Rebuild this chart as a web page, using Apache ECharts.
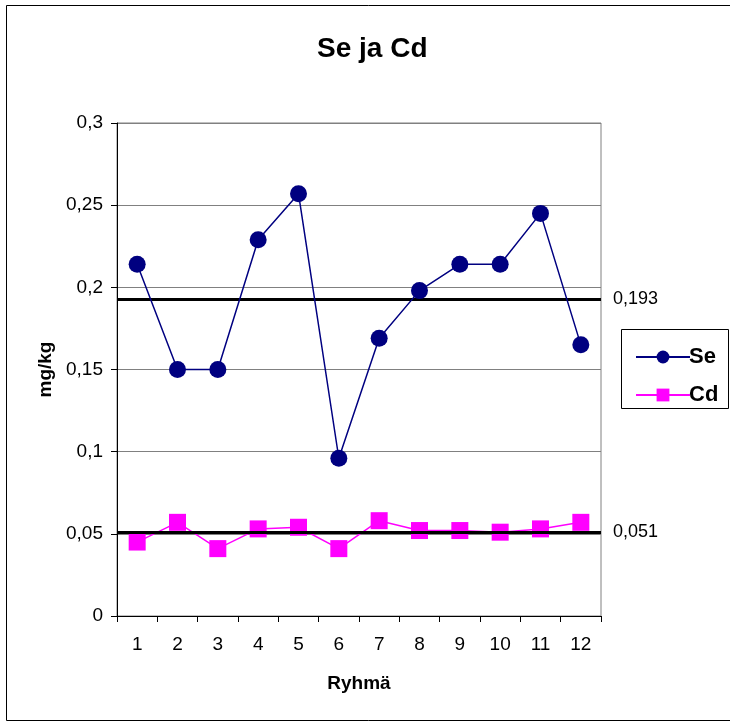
<!DOCTYPE html>
<html><head><meta charset="utf-8">
<script src="https://cdn.jsdelivr.net/npm/echarts@6/dist/echarts.min.js"></script>
<style>html,body{margin:0;padding:0;background:#fff}#c{width:730px;height:722px}</style>
</head><body><div id="c"></div>
<script>
var categories = ['1','2','3','4','5','6','7','8','9','10','11','12'];
var seValues = [0.214,0.150,0.150,0.229,0.257,0.096,0.169,0.198,0.214,0.214,0.245,0.165];
var cdValues = [0.045,0.057,0.041,0.053,0.054,0.041,0.058,0.052,0.052,0.051,0.053,0.057];
var refValues = [0.193, 0.051];
var yTicks = [0, 0.05, 0.1, 0.15, 0.2, 0.25, 0.3];

function fmt(v){ return String(+(+v).toFixed(3)).replace('.', ','); }
var FF = 'Liberation Sans, Arial';

var chart = echarts.init(document.getElementById('c'), null, {renderer:'canvas'});
chart.setOption({
  animation:false,
  backgroundColor:'#fff',
  title:{text:'Se ja Cd', left:312, top:30,
    textStyle:{fontFamily:FF, fontSize:28, fontWeight:'bold', color:'#000'}},
  graphic:[
    {type:'rect', shape:{x:6.5,y:5.5,width:740,height:715}, style:{fill:'none', stroke:'#000', lineWidth:1}, silent:true, z:-1},
    {type:'rect', shape:{x:621.5,y:329.5,width:107,height:79}, style:{fill:'#fff', stroke:'#000', lineWidth:1}, z:10}
  ],
  legend:{
    left:630, top:341, orient:'vertical', itemGap:16, itemWidth:54, itemHeight:16,
    textStyle:{fontFamily:FF, fontSize:22, fontWeight:'bold', color:'#000', padding:[0,0,0,-6]},
    data:['Se','Cd'], z:20
  },
  grid:{left:117, right:129, top:123, bottom:106, show:true, borderColor:'#808080', borderWidth:1},
  xAxis:{
    type:'category', data:categories, boundaryGap:true,
    name:'Ryhmä', nameLocation:'middle', nameGap:58,
    nameTextStyle:{fontFamily:FF, fontSize:19, fontWeight:'bold', color:'#000'},
    axisLine:{lineStyle:{color:'#000', width:1}},
    axisTick:{show:true, length:6, lineStyle:{color:'#000'}},
    axisLabel:{fontFamily:FF, fontSize:19, color:'#000', margin:19}
  },
  yAxis:{
    type:'value', min:0, max:0.3, interval:0.05,
    name:'mg/kg', nameLocation:'middle', nameGap:62,
    nameTextStyle:{fontFamily:FF, fontSize:19, fontWeight:'bold', color:'#000'},
    axisLine:{show:true, lineStyle:{color:'#000', width:1}},
    axisTick:{show:true, length:6, lineStyle:{color:'#000'}},
    splitLine:{show:true, lineStyle:{color:'#808080', width:1}},
    axisLabel:{fontFamily:FF, fontSize:19, color:'#000', margin:14,
      formatter:function(v){ return fmt(v); }}
  },
  series:[
    {name:'Se', type:'line', data:seValues, symbol:'circle', symbolSize:17,
     itemStyle:{color:'#000080'}, lineStyle:{color:'#000080', width:1.5}, z:5,
     markLine:{silent:true, symbol:'none', precision:3, lineStyle:{color:'#000', width:3, type:'solid'},
       label:{show:true, position:'end', distance:12, formatter:function(p){return fmt(p.value);},
         fontFamily:FF, fontSize:18, color:'#000'},
       data:[{yAxis:refValues[0]}], z:3}},
    {name:'Cd', type:'line', data:cdValues, symbol:'rect', symbolSize:17,
     itemStyle:{color:'#ff00ff'}, lineStyle:{color:'#ff00ff', width:1.5}, z:4,
     markLine:{silent:true, symbol:'none', precision:3, lineStyle:{color:'#000', width:3, type:'solid'},
       label:{show:true, position:'end', distance:12, formatter:function(p){return fmt(p.value);},
         fontFamily:FF, fontSize:18, color:'#000'},
       data:[{yAxis:refValues[1]}], z:6}}
  ]
});
</script></body></html>
